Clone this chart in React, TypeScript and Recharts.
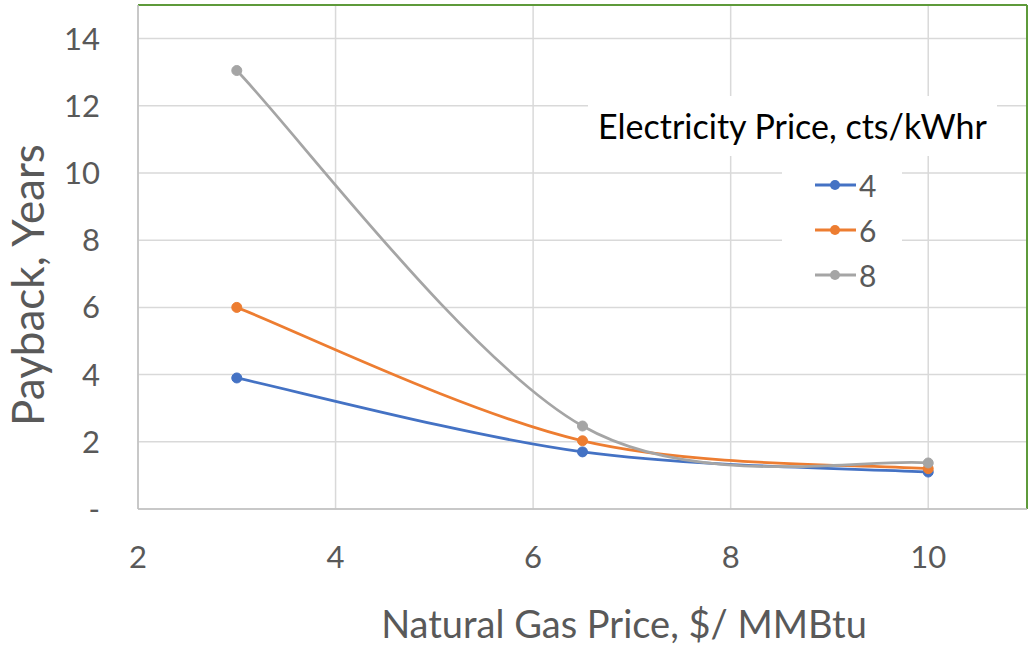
import {
  LineChart,
  Line,
  XAxis,
  YAxis,
  CartesianGrid,
  ReferenceLine,
} from "recharts";

const gasPrices = [3, 6.5, 10];
const payback4 = [3.9, 1.7, 1.1];
const payback6 = [6.0, 2.03, 1.2];
const payback8 = [13.05, 2.47, 1.37];

const xTicks = [2, 4, 6, 8, 10];
const yTicks = [0, 2, 4, 6, 8, 10, 12, 14];

const series = [
  { key: "p4", name: "4", color: "#4472C4" },
  { key: "p6", name: "6", color: "#ED7D31" },
  { key: "p8", name: "8", color: "#A5A5A5" },
];

const data = gasPrices.map((gas, i) => ({
  gas,
  p4: payback4[i],
  p6: payback6[i],
  p8: payback8[i],
}));

const FONT = "Lato, 'Liberation Sans', sans-serif";
const TEXT = "#595959";

// Excel style smoothing: cubic bezier, control points at 1/6 of neighbour chord
const excelSmooth = (context: any) => {
  let pts: [number, number][] = [];
  return {
    areaStart() {},
    areaEnd() {},
    lineStart() {
      pts = [];
    },
    point(x: number, y: number) {
      pts.push([+x, +y]);
    },
    lineEnd() {
      if (!pts.length) return;
      context.moveTo(pts[0][0], pts[0][1]);
      for (let i = 0; i < pts.length - 1; i++) {
        const p0 = pts[Math.max(i - 1, 0)];
        const p1 = pts[i];
        const p2 = pts[i + 1];
        const p3 = pts[Math.min(i + 2, pts.length - 1)];
        context.bezierCurveTo(
          p1[0] + (p2[0] - p0[0]) / 6,
          p1[1] + (p2[1] - p0[1]) / 6,
          p2[0] - (p3[0] - p1[0]) / 6,
          p2[1] - (p3[1] - p1[1]) / 6,
          p2[0],
          p2[1]
        );
      }
    },
  };
};

const LegendBox = () => (
  <div
    style={{
      fontFamily: FONT,
      position: "absolute",
      top: 96,
      left: 588,
      width: 409,
    }}
  >
    <div
      style={{
        background: "#fff",
        textAlign: "center",
        color: "#000",
        fontSize: 34,
        lineHeight: "60px",
        whiteSpace: "nowrap",
      }}
    >
      Electricity Price, cts/kWhr
    </div>
    <div
      style={{
        background: "#fff",
        width: 120,
        marginLeft: 194,
        paddingTop: 6,
        paddingBottom: 8,
      }}
    >
      {series.map((s) => (
        <div
          key={s.key}
          style={{ display: "flex", alignItems: "center", height: 45 }}
        >
          <svg width={46} height={14} style={{ marginLeft: 31 }}>
            <line x1={2} y1={7} x2={43} y2={7} stroke={s.color} strokeWidth={3} />
            <circle cx={22} cy={7} r={5} fill={s.color} />
          </svg>
          <span style={{ color: TEXT, fontSize: 30 }}>{s.name}</span>
        </div>
      ))}
    </div>
  </div>
);

export default function App() {
  return (
    <div style={{ position: "absolute", top: 0, left: 0, width: 1029, height: 648, background: "#fff" }}>
      <LineChart
        width={1029}
        height={648}
        data={data}
        margin={{ top: 5, right: 2, bottom: 0, left: 0 }}
        style={{ fontFamily: FONT }}
      >
        <CartesianGrid stroke="#D9D9D9" strokeWidth={1.5} />
        <XAxis
          dataKey="gas"
          type="number"
          domain={[2, 11]}
          ticks={xTicks}
          allowDataOverflow
          height={139}
          tickSize={0}
          tickMargin={37}
          stroke="#BFBFBF"
          strokeWidth={1.5}
          tick={{ fill: TEXT, fontSize: 31 }}
          label={() => (
            <text x={624} y={638} textAnchor="middle" fill={TEXT} fontSize={38} fontFamily={FONT}>
              Natural Gas Price, $/ MMBtu
            </text>
          )}
        />
        <YAxis
          type="number"
          domain={[0, 15]}
          ticks={yTicks}
          allowDataOverflow
          width={138}
          tickSize={0}
          tickMargin={38}
          stroke="#BFBFBF"
          strokeWidth={1.5}
          tick={{ fill: TEXT, fontSize: 31 }}
          tickFormatter={(v: number) => (v === 0 ? "-" : `${v}`)}
          label={() => (
            <text
              x={44}
              y={285}
              textAnchor="middle"
              fill={TEXT}
              fontSize={44}
              fontFamily={FONT}
              transform="rotate(-90, 44, 285)"
            >
              Payback, Years
            </text>
          )}
        />
        <ReferenceLine y={15} stroke="#5E9A3A" strokeWidth={2} />
        <ReferenceLine x={11} stroke="#5E9A3A" strokeWidth={2} />
        {series.map((s) => (
          <Line
            key={s.key}
            dataKey={s.key}
            name={s.name}
            type={excelSmooth as any}
            stroke={s.color}
            strokeWidth={2.75}
            dot={{ r: 5, fill: s.color, stroke: s.color, strokeWidth: 1 }}
            isAnimationActive={false}
          />
        ))}
      </LineChart>
      <LegendBox />
    </div>
  );
}
